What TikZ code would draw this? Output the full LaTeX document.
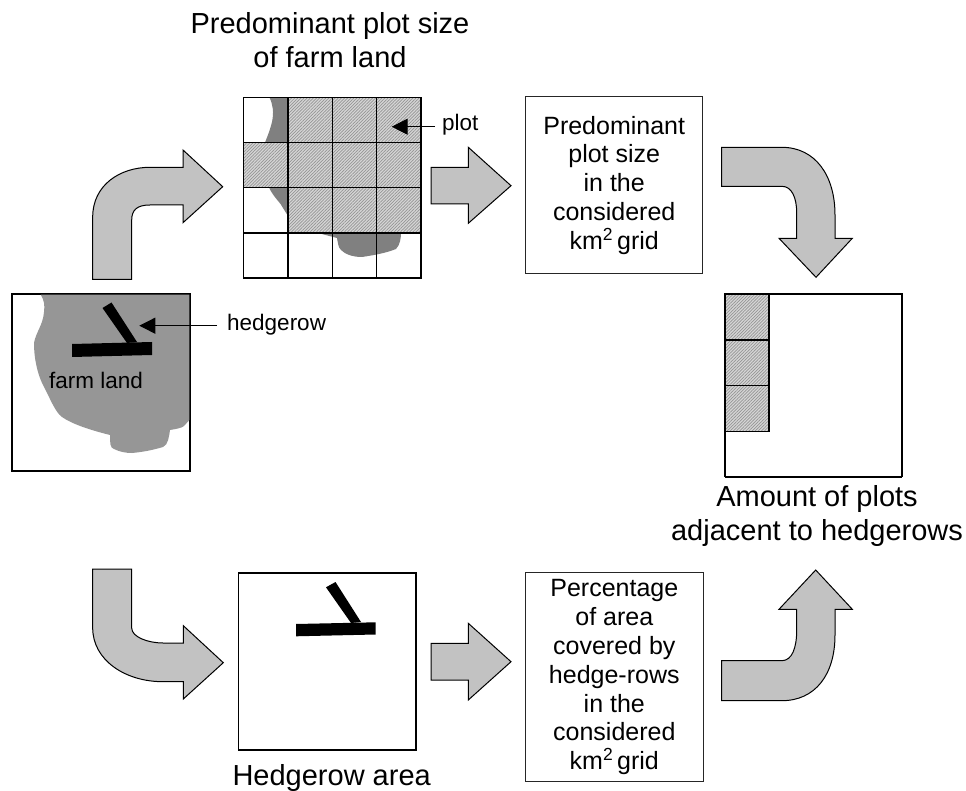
\documentclass[tikz,border=0pt]{standalone}
\usepackage{fontspec}
\setmainfont{Liberation Sans}
\usetikzlibrary{arrows.meta,patterns.meta}
\newcommand{\txttitle}{\fontsize{29}{34}\selectfont}
\newcommand{\txtbig}{\fontsize{25}{28.8}\selectfont}
\newcommand{\txtsmall}{\fontsize{22.5}{26}\selectfont}
\newcommand{\kmgrid}{km\textsuperscript{2}\hspace{-3pt} grid}
\tikzset{
  blockarrow/.style={draw=black,fill=black!24,line width=1pt,line join=miter},
  framebox/.style={draw=black,fill=white,line width=1.1pt},
  textbox/.style={draw=black!85,fill=white,line width=1pt,inner sep=0pt,align=center,font=\txtbig},
  title/.style={align=center,font=\txttitle,inner sep=0pt},
  smalltext/.style={font=\txtsmall,inner sep=0pt},
  hatchbase/.style={fill=black!16},
  hatch/.style={pattern={Lines[angle=45,distance=2.2pt,line width=.7pt]},pattern color=black!42},
  gridline/.style={draw=black,line width=1.3pt},
  hedge/.style={fill=black,draw=none},
  pointer/.style={draw=black,line width=1pt,-{Triangle[length=16pt,width=16pt]}}
}
\begin{document}
\begin{tikzpicture}[x=1pt,y=-1pt]
\useasboundingbox (0,0) rectangle (966,791);
% titles
\node[title] (t1) at (330,40) {Predominant plot size\\of farm land};
\node[title] (t2) at (817,516.2) {Amount of plots\\adjacent to hedgerows};
\node[title] (t3) at (331.7,777.5) {Hedgerow area};
% block arrows
\draw[blockarrow] (92.7,279.5) -- (131.7,279.5) -- (131.7,220) .. controls (131.7,210) and (137,205) .. (150,205) -- (183,205) -- (183,222.7) -- (222.7,186.7) -- (183,150) -- (183,167.3) -- (150,167.3) .. controls (120,167.3) and (92.7,185) .. (92.7,217) -- cycle;
\draw[blockarrow] (431,167.3) -- (468.3,167.3) -- (468.3,147.3) -- (511,185.7) -- (468.3,223.3) -- (468.3,204) -- (431,204) -- cycle;
\draw[blockarrow] (721.7,147.3) -- (781.7,147.3) .. controls (815,147.3) and (835,175) .. (835,215) -- (835,238.3) -- (852.3,238.3) -- (816,277.3) -- (779,238.3) -- (796.7,238.3) -- (796.7,213) .. controls (796.7,198) and (792,186.3) .. (781.7,186.3) -- (721.7,186.3) -- cycle;
\draw[blockarrow] (92.7,569) -- (131.7,569) -- (131.7,628) .. controls (131.7,637) and (148,643) .. (163,643) -- (183.3,643) -- (183.3,625.7) -- (223.3,662.7) -- (183.3,699) -- (183.3,681.7) -- (163,681.7) .. controls (125,681.7) and (92.7,660) .. (92.7,628) -- cycle;
\draw[blockarrow] (431,643.3) -- (468.3,643.3) -- (468.3,623.3) -- (511,661.7) -- (468.3,700) -- (468.3,680) -- (431,680) -- cycle;
\draw[blockarrow] (721.7,700.7) -- (781.7,700.7) .. controls (815,700.7) and (835,675) .. (835,635) -- (835,609.3) -- (852.3,609.3) -- (815.7,570) -- (779,609.3) -- (796.7,609.3) -- (796.7,630) .. controls (796.7,648) and (792,660.7) .. (781.7,660.7) -- (721.7,660.7) -- cycle;
% farm land frame
\draw[framebox] (12,294) rectangle (190,471);
\fill[black!41] (40.7,294.6) .. controls (44,300) and (45,305) .. (44,312) .. controls (43,325) and (36,332) .. (34,343) .. controls (34,360) and (38,375) .. (43,385) .. controls (50,398) and (55,412) .. (62,417) .. controls (72,424) and (90,430) .. (110,435) .. controls (110,443) and (110,448) .. (114,449) .. controls (120,452) and (126,453) .. (132,453) .. controls (143,452) and (153,450) .. (163,447) .. controls (168,445) and (169,437) .. (170,430) .. controls (176,429) and (182,428) .. (184,426) -- (189.4,420) -- (189.4,294.6) -- cycle;
\node[smalltext] (farm) at (96,380) {farm land};
\node[smalltext,anchor=west] (hlabel) at (227,325) {hedgerow};
\coordinate (htip) at (139.3,325.7);
\draw[pointer] (hlabel.west |- htip) ++(-10,0) -- (htip);
\fill[hedge] (72,344) -- (152,342) -- (152,355) -- (72,357) -- cycle;
\fill[hedge] (102.5,308) -- (111.5,302.5) -- (137,342) -- (127,343) -- cycle;
% grid panel
\fill[white] (243.5,97.5) rectangle (421,278);
\fill[black!50] (269.5,97.5) .. controls (273,105) and (274,112) .. (272,122) .. controls (270,130) and (268,135) .. (265,142.5) -- (269,187.5) .. controls (274,198) and (281,203) .. (283,208) -- (288,216) -- (288,97.5) -- cycle;
\fill[black!50] (318,233) -- (337,238) .. controls (338,243) and (338,247) .. (341,250) .. controls (345,254) and (352,257) .. (362,257) .. controls (375,255) and (386,253) .. (396,249) .. controls (400,245) and (401,238) .. (401,233) -- cycle;
\fill[hatchbase] (288,97.5) rectangle (421,233) (243.5,142.5) rectangle (288,187.5);
\path[hatch] (288,97.5) rectangle (421,233);
\path[hatch] (243.5,142.5) rectangle (288,187.5);
\draw[gridline] (243.5,97.5) rectangle (421,278);
\draw[gridline] (243.5,142.5) -- (421,142.5) (243.5,187.5) -- (421,187.5) (243.5,233) -- (421,233);
\draw[gridline,line width=1.8pt] (288,97.5) -- (288,278);
\draw[gridline] (332.5,97.5) -- (332.5,278) (376.5,97.5) -- (376.5,278);
\node[smalltext,anchor=west] (plotlabel) at (442,125) {plot};
\coordinate (ptip) at (391.7,126.7);
\draw[pointer] (plotlabel.west |- ptip) ++(-7,0) -- (ptip);
% text boxes
\node[textbox,minimum width=177.5pt,minimum height=177.3pt] (b1) at (614.2,185.3) {Predominant\\plot size\\in the\\considered\\\kmgrid};
\node[textbox,minimum width=178pt,minimum height=209pt] (b2) at (614.3,677.2) {Percentage\\of area\\covered by\\hedge-rows\\in the\\considered\\\kmgrid};
% hedgerow panel
\draw[framebox] (238.3,573) rectangle (416,750);
\fill[hedge] (296,624) -- (375.5,622.3) -- (375.5,634.5) -- (296,636.3) -- cycle;
\fill[hedge] (326,587.3) -- (335.5,582) -- (361,622) -- (351,623) -- cycle;
% result panel
\fill[white] (725,294) rectangle (902,477);
\fill[hatchbase] (725,294) rectangle (769,431.5);
\path[hatch] (725,294) rectangle (769,431.5);
\draw[gridline] (725,477) -- (725,294) -- (902,294) -- (902,477);
\draw[gridline] (725,477) -- (902,477);
\draw[gridline] (725,340) -- (769,340) (725,385.5) -- (769,385.5) (725,431.5) -- (769,431.5);
\draw[gridline,line width=1.8pt] (769,294) -- (769,431.5);
\end{tikzpicture}
\end{document}
